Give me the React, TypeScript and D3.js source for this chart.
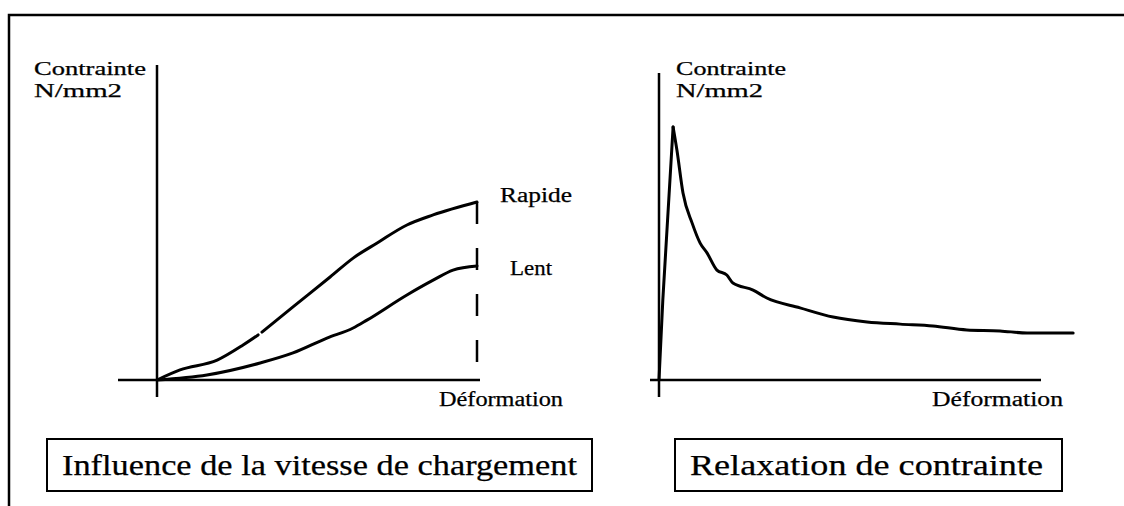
import React from "react";
import * as d3 from "d3";

// Left chart: influence of loading speed (Déformation 0–10, Contrainte 0–10)
const rapideSeg1: [number, number][] = [
  [0, 0], [0.72, 0.32], [1.88, 0.63], [2.69, 1.11], [3.16, 1.43],
];
const rapideSeg2: [number, number][] = [
  [3.28, 1.52], [4.25, 2.32], [5.41, 3.27], [6.13, 3.87], [6.88, 4.35],
  [7.81, 4.92], [8.63, 5.24], [10, 5.65],
];
const lent: [number, number][] = [
  [0, 0], [1.56, 0.16], [3.22, 0.54], [4.25, 0.86], [5.31, 1.33], [6.13, 1.65],
  [6.56, 1.9], [7.81, 2.7], [8.63, 3.17], [9.25, 3.49], [10, 3.62],
];
const limitX = 10;
const rapideEnd = 5.65;

// Right chart: stress relaxation (rise, then decay)
const relaxRise: [number, number][] = [
  [0, 0], [0.1, 2.6], [0.37, 8.24],
];
const relaxDecay: [number, number][] = [
  [0.37, 8.24], [0.47, 7.49], [0.63, 6.09], [0.87, 5.11], [1.08, 4.46],
  [1.26, 4.14], [1.52, 3.58], [1.78, 3.42], [1.94, 3.16], [2.47, 2.93],
  [2.83, 2.67], [3.7, 2.35], [4.57, 2.05], [5.46, 1.89], [6.33, 1.82],
  [7.19, 1.76], [8.08, 1.63], [8.95, 1.6], [9.66, 1.53], [10.87, 1.53],
];

const yLabel = ["Contrainte", "N/mm2"];
const xLabel = "Déformation";
const curveLabels = ["Rapide", "Lent"];
const titles = ["Influence de la vitesse de chargement", "Relaxation de contrainte"];

const FONT = "Liberation Serif, DejaVu Serif, serif";

export default function App() {
  const xL = d3.scaleLinear().domain([0, 10]).range([157, 477]);
  const yL = d3.scaleLinear().domain([0, 10]).range([380, 65]);
  const xR = d3.scaleLinear().domain([0, 10]).range([659, 1040]);
  const yR = d3.scaleLinear().domain([0, 10]).range([380, 73]);

  const lineL = d3
    .line<[number, number]>()
    .x((d) => xL(d[0]))
    .y((d) => yL(d[1]))
    .curve(d3.curveMonotoneX);
  const lineRLin = d3
    .line<[number, number]>()
    .x((d) => xR(d[0]))
    .y((d) => yR(d[1]))
    .curve(d3.curveLinear);
  const lineRSmooth = d3
    .line<[number, number]>()
    .x((d) => xR(d[0]))
    .y((d) => yR(d[1]))
    .curve(d3.curveMonotoneX);

  const curveStyle = { fill: "none", stroke: "#000", strokeWidth: 3, strokeLinejoin: "round" as const, strokeLinecap: "round" as const };
  const axisStyle = { stroke: "#000", strokeWidth: 2.5 };
  const txt = { fill: "#000", stroke: "#000", strokeWidth: 0.25, fontFamily: FONT };

  return (
    <svg
      width={1124}
      height={506}
      style={{ position: "absolute", left: 0, top: 0, display: "block", background: "#fff" }}
    >
      <rect x={0} y={0} width={1124} height={506} fill="#fff" />
      {/* outer frame */}
      <path d="M9,506 V15 H1124" fill="none" stroke="#000" strokeWidth={2.5} />

      {/* Left chart axes */}
      <line x1={xL(0)} x2={xL(0)} y1={65} y2={397} {...axisStyle} />
      <line x1={118} x2={480} y1={yL(0)} y2={yL(0)} {...axisStyle} />
      <text x={34} y={75} fontSize={18.5} textLength={112} lengthAdjust="spacingAndGlyphs" {...txt}>{yLabel[0]}</text>
      <text x={34} y={97} fontSize={18.5} textLength={88} lengthAdjust="spacingAndGlyphs" {...txt}>{yLabel[1]}</text>
      <text x={439} y={406} fontSize={20} textLength={124} lengthAdjust="spacingAndGlyphs" {...txt}>{xLabel}</text>

      <path d={lineL(rapideSeg1) || ""} {...curveStyle} />
      <path d={lineL(rapideSeg2) || ""} {...curveStyle} />
      <path d={lineL(lent) || ""} {...curveStyle} />
      <line
        x1={xL(limitX)} x2={xL(limitX)} y1={yL(rapideEnd)} y2={yL(0)}
        stroke="#000" strokeWidth={2.5} strokeDasharray="22 24"
      />
      <text x={500} y={202} fontSize={20} textLength={72} lengthAdjust="spacingAndGlyphs" {...txt}>{curveLabels[0]}</text>
      <text x={510} y={275} fontSize={20} textLength={42} lengthAdjust="spacingAndGlyphs" {...txt}>{curveLabels[1]}</text>

      {/* Right chart axes */}
      <line x1={xR(0)} x2={xR(0)} y1={73} y2={397} {...axisStyle} />
      <line x1={650} x2={1041} y1={yR(0)} y2={yR(0)} {...axisStyle} />
      <text x={676} y={75} fontSize={18.5} textLength={110} lengthAdjust="spacingAndGlyphs" {...txt}>{yLabel[0]}</text>
      <text x={676} y={97} fontSize={18.5} textLength={87} lengthAdjust="spacingAndGlyphs" {...txt}>{yLabel[1]}</text>
      <text x={932} y={406} fontSize={20} textLength={131} lengthAdjust="spacingAndGlyphs" {...txt}>{xLabel}</text>
      <path d={lineRLin(relaxRise) || ""} {...curveStyle} />
      <path d={lineRSmooth(relaxDecay) || ""} {...curveStyle} />

      {/* Title boxes */}
      <rect x={47} y={439} width={545} height={52} fill="none" stroke="#000" strokeWidth={2} />
      <text x={62} y={475} fontSize={29} textLength={515} lengthAdjust="spacingAndGlyphs" {...txt}>{titles[0]}</text>
      <rect x={675} y={439} width={387} height={52} fill="none" stroke="#000" strokeWidth={2} />
      <text x={690} y={475} fontSize={29} textLength={353} lengthAdjust="spacingAndGlyphs" {...txt}>{titles[1]}</text>
    </svg>
  );
}
